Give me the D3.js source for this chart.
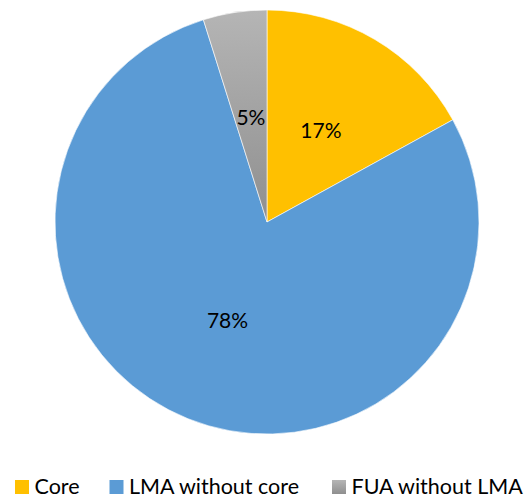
<!DOCTYPE html>
<html>
<head>
<meta charset="utf-8">
<script src="https://cdn.jsdelivr.net/npm/d3@7"></script>
<style>
  body { margin: 0; background: #fff; }
  #chart { width: 530px; height: 499px; }
</style>
</head>
<body>
<div id="chart"></div>
<script>
const categories = ["Core", "LMA without core", "FUA without LMA"];
const shares = [17.0, 78.15, 4.85];
const labels = ["17%", "78%", "5%"];
const colors = ["#FFC000", "#5B9BD5", "url(#grayGrad)"];

const fullWidth = 530, fullHeight = 499;
const cx = 267, cy = 222, radius = 212;

const svg = d3.select("#chart").append("svg")
  .attr("width", fullWidth)
  .attr("height", fullHeight)
  .style("font-family", "Lato, 'Open Sans', sans-serif");

const defs = svg.append("defs");
const grad = defs.append("linearGradient")
  .attr("id", "grayGrad")
  .attr("x1", 0).attr("y1", 0).attr("x2", 0).attr("y2", 1);
grad.append("stop").attr("offset", "0%").attr("stop-color", "#b5b5b5");
grad.append("stop").attr("offset", "100%").attr("stop-color", "#8f8f8f");

const pie = d3.pie().sort(null).value(d => d)(shares);
const arc = d3.arc().innerRadius(0).outerRadius(radius);

const g = svg.append("g").attr("transform", `translate(${cx},${cy})`);

g.selectAll("path")
  .data(pie)
  .enter()
  .append("path")
  .attr("d", arc)
  .attr("fill", (d, i) => colors[i])
  .attr("stroke", "#fff")
  .attr("stroke-width", 0.6);

g.selectAll("text")
  .data(pie)
  .enter()
  .append("text")
  .attr("transform", d => `translate(${arc.centroid(d)})`)
  .attr("text-anchor", "middle")
  .attr("dy", "0.36em")
  .attr("font-size", "21px")
  .attr("fill", "#000")
  .text((d, i) => labels[i]);

// legend
const legendX = [15, 109.5, 332];
const legend = svg.append("g");
categories.forEach((c, i) => {
  legend.append("rect")
    .attr("x", legendX[i])
    .attr("y", 480)
    .attr("width", 14)
    .attr("height", 14)
    .attr("fill", colors[i]);
  legend.append("text")
    .attr("x", legendX[i] + 19.5)
    .attr("y", 494)
    .attr("font-size", "21.5px")
    .attr("fill", "#000")
    .text(c);
});
</script>
</body>
</html>
